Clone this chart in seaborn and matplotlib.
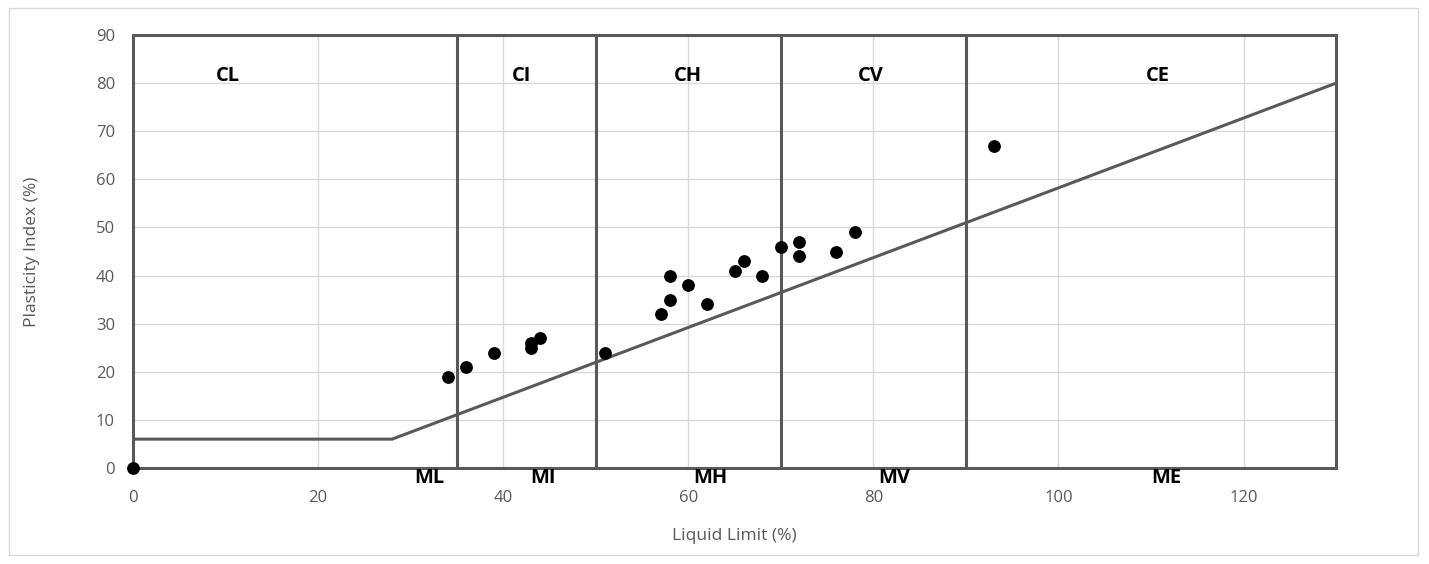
import matplotlib
matplotlib.use("Agg")
import matplotlib.pyplot as plt
import seaborn as sns
import pandas as pd
from matplotlib.patches import Rectangle

# ---- data ----
liquid_limit = [0, 34, 36, 39, 43, 43, 44, 51, 57, 58, 58, 60, 62, 65, 66, 68, 70, 72, 72, 76, 78, 93]
plasticity_index = [0, 19, 21, 24, 25, 26, 27, 24, 32, 35, 40, 38, 34, 41, 43, 40, 46, 47, 44, 45, 49, 67]

aline_x = [0, 28, 130]
aline_y = [6, 6, 80]

zone_bounds = [35, 50, 70, 90]
upper_labels = ["CL", "CI", "CH", "CV", "CE"]
upper_label_x = [10.3, 42, 60, 79.7, 110.7]
lower_labels = ["ML", "MI", "MH", "MV", "ME"]
lower_label_x = [32, 44.3, 62.4, 82.2, 111.7]

x_ticks = [0, 20, 40, 60, 80, 100, 120]
y_ticks = [0, 10, 20, 30, 40, 50, 60, 70, 80, 90]

sns.set_theme(style="white")
plt.rcParams['font.family'] = ['Open Sans', 'DejaVu Sans']

fig = plt.figure(figsize=(14.29, 5.64), dpi=100)
ax = fig.add_axes([0.0931, 0.1702, 0.8419, 0.7677])

frame_col = "#595959"
grid_col = "#d9d9d9"

# gridlines
for xv in x_ticks:
    ax.axvline(xv, color=grid_col, lw=1, zorder=0)
for yv in y_ticks:
    ax.axhline(yv, color=grid_col, lw=1, zorder=0)

# zone boundaries
for b in zone_bounds:
    ax.plot([b, b], [0, 90], color=frame_col, lw=2.2, zorder=2)

# A-line
aline = pd.DataFrame({"x": aline_x, "y": aline_y})
sns.lineplot(data=aline, x="x", y="y", sort=False, color=frame_col, lw=2.2, ax=ax, zorder=2)

# data points
pts = pd.DataFrame({"LL": liquid_limit, "PI": plasticity_index})
sns.scatterplot(data=pts, x="LL", y="PI", color="black", s=85, edgecolor="black",
                linewidth=0, ax=ax, zorder=4, clip_on=False)

# labels
for t, xv in zip(upper_labels, upper_label_x):
    ax.text(xv, 81.5, t, ha="center", va="center", fontsize=14.5, fontweight="bold", color="black")
for t, xv in zip(lower_labels, lower_label_x):
    ax.text(xv, -2, t, ha="center", va="center", fontsize=14.5, fontweight="bold",
            color="black", clip_on=False, zorder=5)

ax.set_xlim(0, 130)
ax.set_ylim(0, 90)
ax.set_xticks(x_ticks)
ax.set_yticks(y_ticks)
ax.tick_params(axis="both", labelsize=12, colors=frame_col, length=0)
ax.tick_params(axis="x", pad=16)
ax.tick_params(axis="y", pad=13)
ax.set_xlabel("Liquid Limit (%)", fontsize=12.5, color=frame_col, labelpad=16)
ax.set_ylabel("Plasticity Index (%)", fontsize=12.5, color=frame_col, labelpad=40)
ax.grid(False)
for s in ax.spines.values():
    s.set_color(frame_col)
    s.set_linewidth(2.2)
    s.set_zorder(3)

# outer chart border
fig.patches.append(Rectangle((0.006, 0.016), 0.986, 0.97, transform=fig.transFigure,
                             fill=False, edgecolor=grid_col, lw=1))

fig.savefig("out.png", dpi=100)
